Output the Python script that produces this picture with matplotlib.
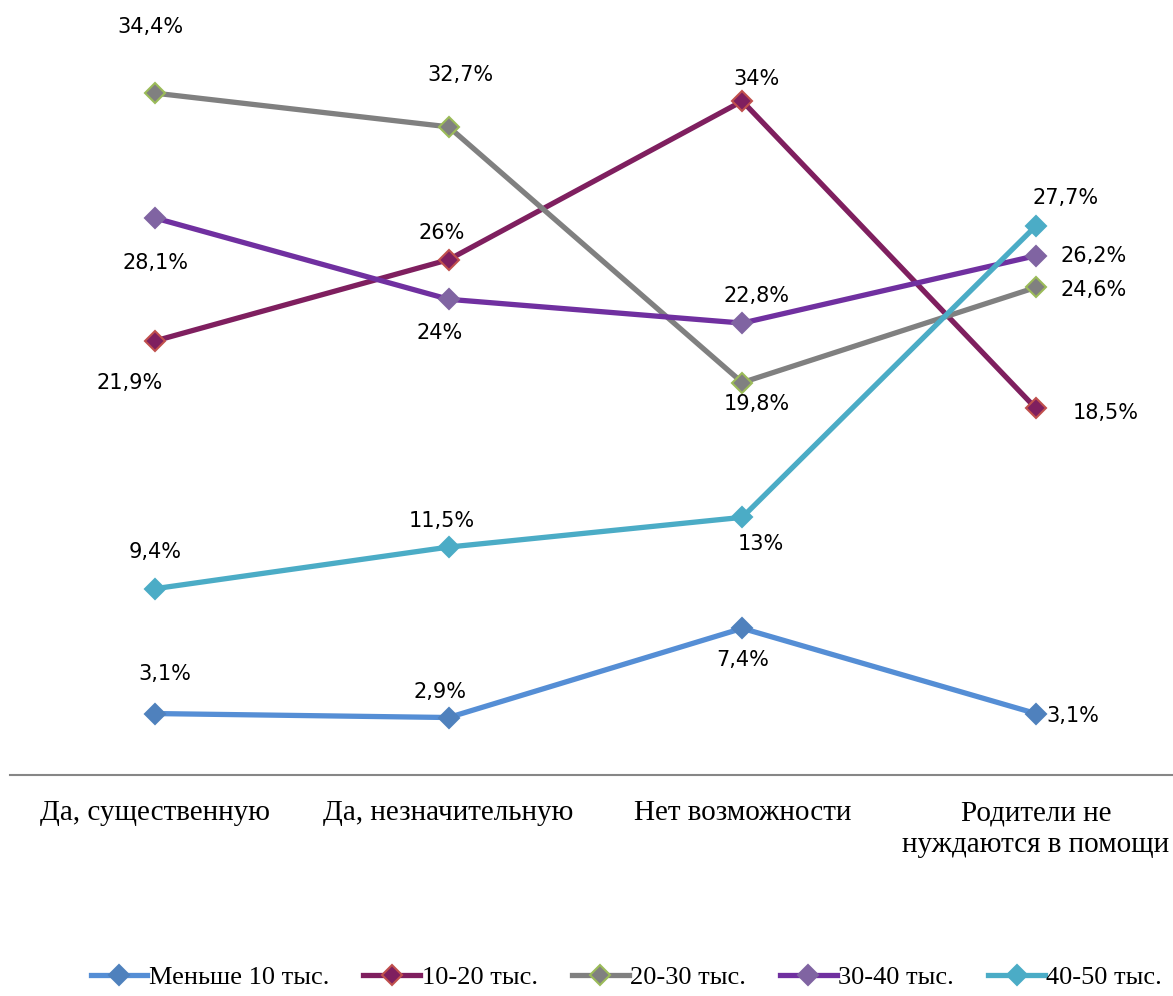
import matplotlib.pyplot as plt

categories = ['Да, существенную', 'Да, незначительную', 'Нет возможности',
              'Родители не\nнуждаются в помощи']
series_names = ['Меньше 10 тыс.', '10-20 тыс.', '20-30 тыс.', '30-40 тыс.', '40-50 тыс.']
less_10 = [3.1, 2.9, 7.4, 3.1]
from_10_20 = [21.9, 26.0, 34.0, 18.5]
from_20_30 = [34.4, 32.7, 19.8, 24.6]
from_30_40 = [28.1, 24.0, 22.8, 26.2]
from_40_50 = [9.4, 11.5, 13.0, 27.7]
label_texts = [
    ['3,1%', '2,9%', '7,4%', '3,1%'],
    ['21,9%', '26%', '34%', '18,5%'],
    ['34,4%', '32,7%', '19,8%', '24,6%'],
    ['28,1%', '24%', '22,8%', '26,2%'],
    ['9,4%', '11,5%', '13%', '27,7%'],
]

# line colour, marker fill, marker edge
styles = [
    ('#558ED5', '#4F81BD', '#4F81BD'),
    ('#7F1F5F', '#7F1F5F', '#C0504D'),
    ('#808080', '#808080', '#9BBB59'),
    ('#7030A0', '#8064A2', '#8064A2'),
    ('#4BACC6', '#4BACC6', '#4BACC6'),
]

# label offsets in pixels (dx, dy) relative to the point
offsets = [
    [(10, 40), (-9, 26), (0, -32), (37, -2)],
    [(-25, -42), (-7, 27), (14, 22), (70, -5)],
    [(-5, 66), (12, 52), (14, -21), (58, -3)],
    [(0, -45), (-9, -34), (14, 27), (58, 0)],
    [(0, 37), (-7, 26), (19, -27), (30, 28)],
]

data = [less_10, from_10_20, from_20_30, from_30_40, from_40_50]
x = list(range(len(categories)))

fig = plt.figure(figsize=(11.73, 9.96), dpi=100)
ax = fig.add_axes([10 / 1173, 221 / 996, 1163 / 1173, 775 / 996])

for vals, name, (lc, mf, me), labs, offs in zip(data, series_names, styles, label_texts, offsets):
    ax.plot(x, vals, color=lc, lw=3.8, marker='D', markersize=10,
            markerfacecolor=mf, markeredgecolor=me, markeredgewidth=1.5, label=name)
    for xi, v, t, (dx, dy) in zip(x, vals, labs, offs):
        ax.annotate(t, (xi, v), xytext=(dx * 0.72, dy * 0.72), textcoords='offset points',
                    ha='center', va='center', fontsize=15, family='DejaVu Sans')

ax.set_xlim(-0.494, 3.467)
ax.set_ylim(0, 39.1)
for s in ['top', 'right', 'left']:
    ax.spines[s].set_visible(False)
ax.spines['bottom'].set_color('#868686')
ax.spines['bottom'].set_linewidth(1.5)
ax.set_yticks([])
ax.set_xticks(x)
ax.set_xticklabels(categories, family='Liberation Serif', fontsize=21, linespacing=1.3)
ax.tick_params(axis='x', length=0, pad=18)

fig.legend(loc='lower center', bbox_to_anchor=(0.534, -0.017), ncol=5, frameon=False,
           prop={'family': 'Liberation Serif', 'size': 19}, handlelength=2.15,
           handletextpad=0.05, columnspacing=1.3)

fig.savefig('out.png', dpi=100)
